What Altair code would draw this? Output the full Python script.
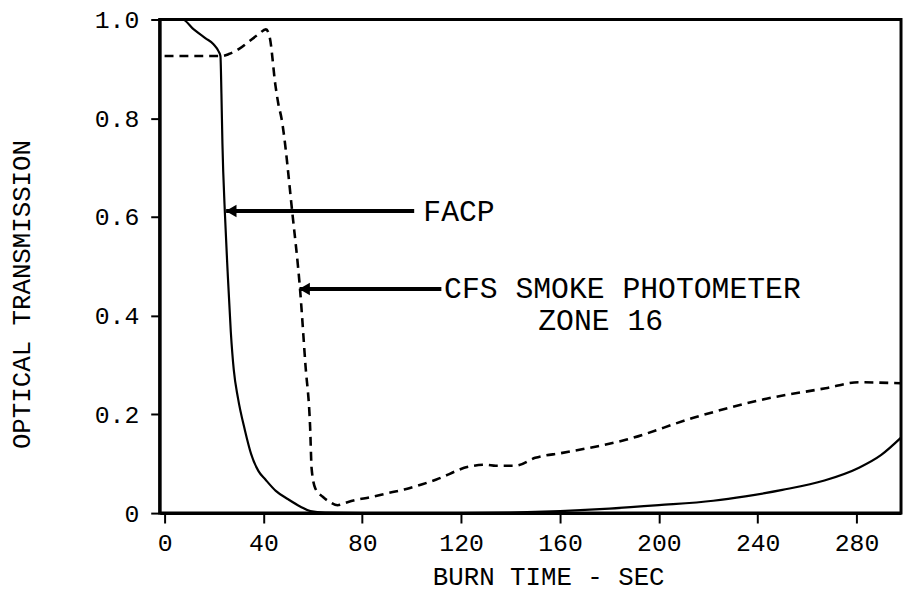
import altair as alt
import pandas as pd

# FACP (solid) curve
facp_x = [0, 7.2, 11.8, 16.6, 19.8, 21.8, 22.6, 23.0, 23.4, 24.4, 25.5, 26.8, 28.0, 29.7, 32.5,
          35, 38, 40.8, 45, 50, 55, 59, 65, 80, 100, 120, 140, 160, 180, 200, 222, 235, 250,
          267, 281, 290, 298]
facp_y = [1.0, 1.0, 0.98, 0.962, 0.95, 0.936, 0.926, 0.85, 0.75, 0.608, 0.49, 0.367,
          0.29, 0.233, 0.168, 0.12, 0.085, 0.068, 0.045, 0.028, 0.013, 0.004, 0.001, 0.0, 0.0,
          0.0, 0.001, 0.004, 0.009, 0.016, 0.025, 0.034, 0.047, 0.066, 0.092, 0.118, 0.153]

# CFS smoke photometer, zone 16 (dashed) curve
cfs_x = [0, 23, 26, 30, 34, 38, 41, 42.5, 44.9, 46, 47.3, 51.7, 54.9, 57, 58.9, 59.5, 61, 64,
         67, 70, 74, 77, 83, 90, 97, 110, 123, 130, 134, 142, 150, 161, 187, 214, 241, 267.5,
         281, 298]
cfs_y = [0.926, 0.926, 0.93, 0.94, 0.955, 0.97, 0.98, 0.965, 0.865, 0.83, 0.8, 0.608, 0.448,
         0.3, 0.173, 0.09, 0.05, 0.033, 0.022, 0.016, 0.022, 0.026, 0.032, 0.04, 0.048, 0.068,
         0.094, 0.098, 0.096, 0.096, 0.112, 0.122, 0.149, 0.193, 0.229, 0.253, 0.265, 0.263]

x_ticks = [0, 40, 80, 120, 160, 200, 240, 280]
y_ticks = [0, 0.2, 0.4, 0.6, 0.8, 1.0]

# annotations
arrow_head_x = [24.9, 54.6]
arrow_tail_x = [101, 112]
arrow_y = [0.612, 0.454]
label_text = ["FACP", "CFS SMOKE PHOTOMETER", "ZONE 16"]
label_x = [104.7, 113.1, 151.2]
label_y = [0.610, 0.454, 0.39]

FONT = "Liberation Mono"

facp = pd.DataFrame({"t": facp_x, "v": facp_y})
cfs = pd.DataFrame({"t": cfs_x, "v": cfs_y})
arrows = pd.DataFrame({"head": arrow_head_x, "tail": arrow_tail_x, "y": arrow_y})
labels = pd.DataFrame({"x": label_x, "y": label_y, "text": label_text})

xscale = alt.Scale(domain=[-2, 298], nice=False, zero=False)
yscale = alt.Scale(domain=[0, 1], nice=False)

xaxis = alt.Axis(values=x_ticks, format="d", title="BURN TIME - SEC", grid=False,
                 labelFont=FONT, labelFontSize=25, labelColor="black", labelPadding=8,
                 tickSize=10, tickWidth=2, tickColor="black",
                 domainColor="black", domainWidth=3,
                 titleFont=FONT, titleFontSize=26, titleFontWeight="normal", titleColor="black",
                 titlePadding=8, titleX=392)
yaxis = alt.Axis(values=y_ticks, title="OPTICAL TRANSMISSION", grid=False,
                 labelExpr="datum.value == 0 ? '0' : format(datum.value, '.1f')",
                 labelFont=FONT, labelFontSize=25, labelColor="black", labelPadding=12,
                 tickSize=9, tickWidth=2, tickColor="black",
                 domainColor="black", domainWidth=3,
                 titleFont=FONT, titleFontSize=26, titleFontWeight="normal", titleColor="black",
                 titleAngle=270, titleX=-139, titleY=277, titleAlign="center",
                 titleBaseline="middle")

solid = alt.Chart(facp).mark_line(color="black", strokeWidth=2.2, interpolate="monotone").encode(
    x=alt.X("t:Q", scale=xscale, axis=xaxis),
    y=alt.Y("v:Q", scale=yscale, axis=yaxis),
)
dashed = alt.Chart(cfs).mark_line(color="black", strokeWidth=2.6, strokeDash=[9, 6],
                                  interpolate="monotone").encode(
    x=alt.X("t:Q", scale=xscale),
    y=alt.Y("v:Q", scale=yscale),
)
arrow_lines = alt.Chart(arrows).mark_rule(color="black", strokeWidth=4).encode(
    x=alt.X("head:Q", scale=xscale), x2="tail:Q", y=alt.Y("y:Q", scale=yscale)
)
arrow_heads = alt.Chart(arrows).mark_point(shape="triangle-left", filled=True, color="black",
                                           size=160, opacity=1, xOffset=5).encode(
    x=alt.X("head:Q", scale=xscale), y=alt.Y("y:Q", scale=yscale)
)
text = alt.Chart(labels).mark_text(font=FONT, fontSize=30, align="left", baseline="middle",
                                   color="black").encode(
    x=alt.X("x:Q", scale=xscale), y=alt.Y("y:Q", scale=yscale), text="text:N"
)

chart = alt.layer(solid, dashed, arrow_lines, arrow_heads, text).properties(
    width=748, height=498,
    autosize=alt.AutoSizeParams(type="none"),
    padding={"left": 153, "top": 9, "right": 2, "bottom": 78},
    background="white",
).configure_view(stroke="black", strokeWidth=3)

chart.save("out.html", embed_options={"renderer": "svg", "actions": False})
